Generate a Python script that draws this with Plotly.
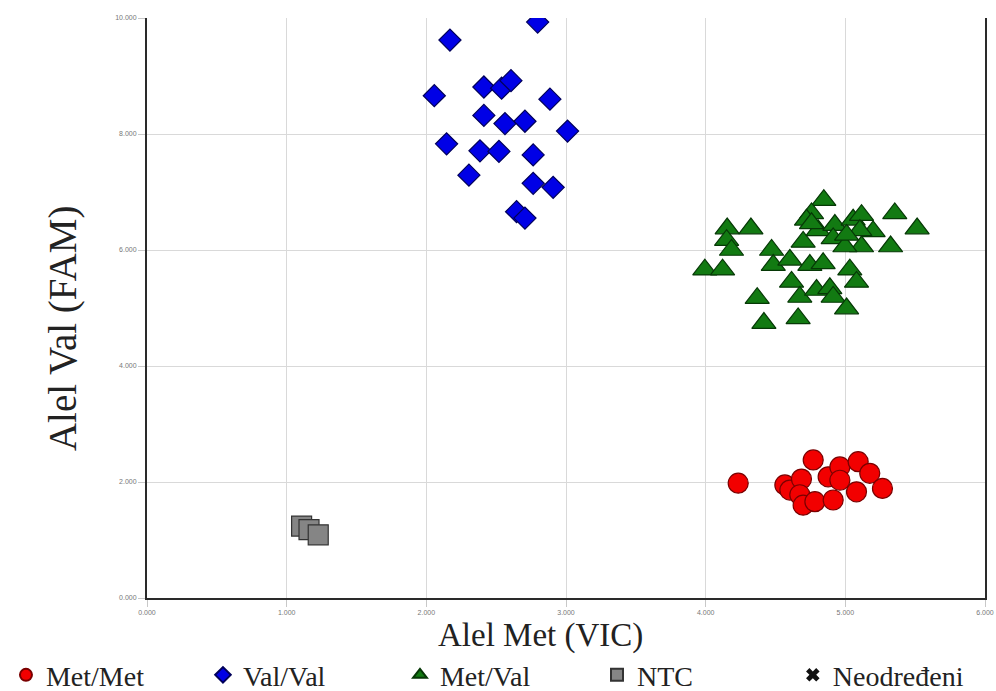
import plotly.graph_objects as go

# Genotype clusters: VIC (Met allele) on x, FAM (Val allele) on y, in thousands
met_met_x = [4.233, 4.567, 4.603, 4.686, 4.770, 4.674, 4.698, 4.782, 4.877, 4.961,
             4.961, 4.913, 5.092, 5.175, 5.080, 5.266]
met_met_y = [1.98, 1.95, 1.86, 2.05, 2.38, 1.78, 1.60, 1.66, 2.09, 2.26,
             2.03, 1.69, 2.35, 2.15, 1.83, 1.89]

val_val_x = [2.797, 2.169, 2.057, 2.412, 2.539, 2.606, 2.885, 2.412, 2.563, 2.706,
             3.011, 2.145, 2.384, 2.520, 2.765, 2.305, 2.765, 2.908, 2.646, 2.706]
val_val_y = [9.93, 9.62, 8.66, 8.81, 8.79, 8.92, 8.60, 8.32, 8.18, 8.22,
             8.05, 7.83, 7.71, 7.70, 7.64, 7.29, 7.15, 7.08, 6.66, 6.55]

met_val_x = [4.846, 4.758, 4.722, 4.154, 4.324, 4.150, 4.185, 3.994, 4.121, 4.472,
             4.484, 4.603, 4.746, 4.841, 4.698, 4.805, 4.925, 4.913, 5.056, 5.116,
             5.199, 5.116, 4.997, 5.324, 5.354, 5.514, 5.032, 5.080, 4.615, 4.674,
             4.794, 4.889, 4.913, 4.369, 4.417, 4.662, 5.009, 5.104, 5.009, 4.758]
met_val_y = [6.86, 6.63, 6.52, 6.37, 6.37, 6.17, 6.00, 5.66, 5.66, 6.00,
             5.74, 5.83, 5.74, 5.77, 6.14, 6.34, 6.43, 6.20, 6.52, 6.60,
             6.32, 6.06, 6.06, 6.06, 6.63, 6.37, 5.66, 5.45, 5.45, 5.19,
             5.31, 5.34, 5.19, 5.17, 4.74, 4.82, 4.99, 6.34, 6.26, 6.46]

ntc_x = [1.107, 1.160, 1.226]
ntc_y = [1.24, 1.18, 1.09]

x_ticks = [0, 1, 2, 3, 4, 5, 6]
y_ticks = [0, 2, 4, 6, 8, 10]

fig = go.Figure()

fig.add_trace(go.Scatter(
    x=met_met_x, y=met_met_y, mode="markers", name="Met/Met",
    marker=dict(symbol="circle", size=20, color="#f20000",
                line=dict(color="#7a0000", width=1.2)),
))
fig.add_trace(go.Scatter(
    x=val_val_x, y=val_val_y, mode="markers", name="Val/Val",
    marker=dict(symbol="diamond", size=17, color="#0000e6",
                line=dict(color="#00005a", width=1.2)),
))
fig.add_trace(go.Scatter(
    x=met_val_x, y=met_val_y, mode="markers", name="Met/Val",
    marker=dict(symbol="triangle-up", size=21, color="#127a12",
                line=dict(color="#063806", width=1.2)),
))
fig.add_trace(go.Scatter(
    x=ntc_x, y=ntc_y, mode="markers", name="NTC",
    marker=dict(symbol="square", size=20, color="#858585",
                line=dict(color="#333333", width=1.2)),
))
# Undetermined calls: none in this run, kept for the legend
fig.add_trace(go.Scatter(
    x=[None], y=[None], mode="markers", name="Neodređeni", legend="legend2",
    marker=dict(symbol="x", size=12, color="#111111"),
))

axis_common = dict(
    showgrid=True, gridcolor="#d9d9d9", gridwidth=1,
    zeroline=False, tickformat=".3f",
    tickfont=dict(family="Arial", size=7, color="#777777"),
    ticks="outside", ticklen=7, tickcolor="#c8c8c8",
    showline=True, linecolor="#2a2a2a", linewidth=2,
)

fig.update_xaxes(range=[0, 6], tickvals=x_ticks, mirror=False, **axis_common)
fig.update_yaxes(range=[0, 10], tickvals=y_ticks, mirror=True, **axis_common)

legend_font = dict(family="Liberation Serif", size=28, color="#222222")

fig.update_layout(
    width=996, height=691,
    margin=dict(l=147, r=11, t=18, b=93, autoexpand=False),
    paper_bgcolor="white", plot_bgcolor="white",
    font=dict(family="Liberation Serif", color="#222222"),
    showlegend=True,
    legend=dict(
        orientation="h", xref="container", yref="paper",
        x=0.006, y=-0.133, xanchor="left", yanchor="middle",
        font=legend_font, itemsizing="constant",
        entrywidth=152, entrywidthmode="pixels",
        bgcolor="rgba(0,0,0,0)",
    ),
    legend2=dict(
        orientation="h", xref="container", yref="paper",
        x=0.796, y=-0.133, xanchor="left", yanchor="middle",
        font=legend_font, itemsizing="constant",
        bgcolor="rgba(0,0,0,0)",
    ),
    annotations=[
        dict(text="Alel Met (VIC)", xref="paper", yref="paper",
             x=0.470, y=-0.064, xanchor="center", yanchor="middle",
             showarrow=False, font=dict(family="Liberation Serif", size=33, color="#222222")),
        dict(text="Alel Val (FAM)", xref="paper", yref="paper",
             x=-0.101, y=0.466, xanchor="center", yanchor="middle", textangle=-90,
             showarrow=False, font=dict(family="Liberation Serif", size=39, color="#222222")),
    ],
)

fig.write_html("out.html")
